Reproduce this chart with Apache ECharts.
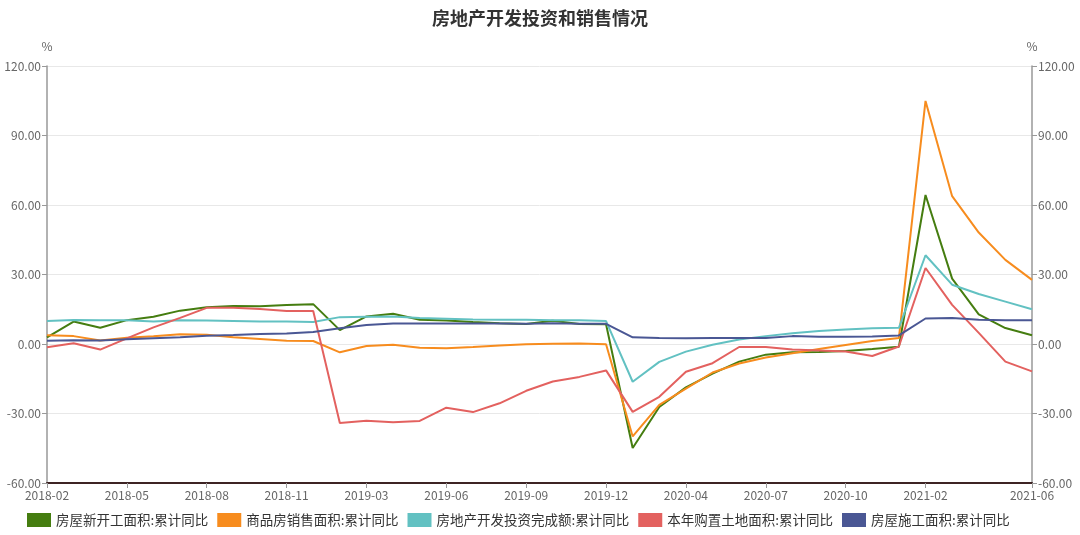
<!DOCTYPE html>
<html>
<head>
<meta charset="utf-8">
<script src="https://cdn.jsdelivr.net/npm/echarts@6/dist/echarts.min.js"></script>
<style>
html,body{margin:0;padding:0;background:#fff;}
#chart{width:1080px;height:535px;}
</style>
</head>
<body>
<div id="chart"></div>
<script>
const categories = [
  '2018-02','2018-03','2018-04','2018-05','2018-06','2018-07','2018-08','2018-09','2018-10','2018-11','2018-12',
  '2019-02','2019-03','2019-04','2019-05','2019-06','2019-07','2019-08','2019-09','2019-10','2019-11','2019-12',
  '2020-02','2020-03','2020-04','2020-05','2020-06','2020-07','2020-08','2020-09','2020-10','2020-11','2020-12',
  '2021-02','2021-03','2021-04','2021-05','2021-06'
];
const seriesNames = ['房屋新开工面积:累计同比','商品房销售面积:累计同比','房地产开发投资完成额:累计同比','本年购置土地面积:累计同比','房屋施工面积:累计同比'];
const newStarts = [2.9,9.7,7.0,10.3,11.8,14.4,15.9,16.4,16.3,16.8,17.2,
  6.0,11.9,13.1,10.5,10.1,9.5,9.0,8.6,10.0,8.6,8.5,
  -44.9,-27.2,-18.7,-12.8,-7.6,-4.6,-3.6,-3.4,-3.0,-2.2,-1.2,
  64.3,28.2,12.8,6.9,3.8];
const sales = [3.8,3.4,1.5,2.7,3.3,4.2,4.0,2.9,2.2,1.4,1.3,
  -3.6,-0.9,-0.3,-1.6,-1.8,-1.3,-0.6,-0.1,0.1,0.2,-0.1,
  -39.9,-26.3,-19.3,-12.3,-8.4,-5.8,-4.0,-2.2,-0.4,1.3,2.6,
  104.9,63.8,48.1,36.3,27.7];
const investment = [9.9,10.4,10.3,10.2,9.7,10.2,10.1,9.9,9.7,9.7,9.5,
  11.6,11.8,11.9,11.2,10.9,10.6,10.5,10.5,10.3,10.2,9.9,
  -16.3,-7.7,-3.3,-0.3,1.9,3.4,4.6,5.6,6.3,6.8,7.0,
  38.3,25.6,21.6,18.3,15.0];
const landPurchase = [-1.4,0.3,-2.4,2.4,7.2,11.3,15.6,15.6,15.1,14.2,14.2,
  -34.1,-33.1,-33.8,-33.2,-27.5,-29.4,-25.6,-20.2,-16.2,-14.2,-11.4,
  -29.3,-22.8,-12.0,-8.3,-1.3,-1.3,-2.4,-2.8,-3.2,-5.2,-1.1,
  32.8,16.9,4.8,-7.6,-11.8];
const underConstruction = [1.4,1.6,1.5,2.1,2.5,2.9,3.6,3.9,4.3,4.5,5.2,
  6.8,8.2,8.8,8.8,8.8,8.8,8.8,8.7,9.0,8.7,8.7,
  2.9,2.6,2.5,2.6,2.6,2.6,3.4,3.1,3.1,3.2,3.7,
  11.0,11.2,10.5,10.3,10.3];
const yTicks = {min:-60, max:120, interval:30};
const colors = ['#457d10','#f78c1e','#62c1c2','#e3615f','#4a5794'];

const chart = echarts.init(document.getElementById('chart'), null, {renderer:'canvas'});
const font = '"Noto Sans CJK SC", "Noto Sans", sans-serif';
const labelInterval = function(idx){ return (idx % 3 === 0 && idx !== 36) || idx === categories.length - 1; };
function yAxis(pos){
  return {
    type:'value', position:pos, min:yTicks.min, max:yTicks.max, interval:yTicks.interval,
    name:'%', nameLocation:'end', nameGap:14,
    nameTextStyle:{color:'#666', fontSize:12, fontFamily:font},
    axisLine:{show:true, lineStyle:{color:'#999', width:1.5}},
    axisTick:{show:true, length:5, lineStyle:{color:'#999'}},
    axisLabel:{color:'#666', fontSize:12, fontFamily:font, formatter:v=>v.toFixed(2), margin:6},
    splitLine:{show:pos==='left', lineStyle:{color:'#e8e8e8', width:1}}
  };
}
const dataArrays = [newStarts, sales, investment, landPurchase, underConstruction];
chart.setOption({
  animation:false,
  color:colors,
  title:{text:'房地产开发投资和销售情况', left:'center', top:4,
    textStyle:{fontSize:18, fontWeight:'bold', color:'#333', fontFamily:font}},
  grid:{left:47, right:48, top:66, bottom:52, containLabel:false},
  legend:{bottom:3, left:22, itemWidth:24, itemHeight:14, itemGap:9, icon:'rect',
    textStyle:{fontSize:13.5, color:'#333', fontFamily:font},
    data:seriesNames},
  xAxis:{type:'category', data:categories, boundaryGap:false,
    axisLine:{onZero:false, lineStyle:{color:'#3e2424', width:2}},
    axisTick:{show:true, interval:labelInterval, length:5, lineStyle:{color:'#999'}},
    axisLabel:{interval:labelInterval, color:'#666', fontSize:12, fontFamily:font, margin:6},
    splitLine:{show:false}},
  yAxis:[yAxis('left'), yAxis('right')],
  series: seriesNames.map((n,i)=>({
    name:n, type:'line', data:dataArrays[i], yAxisIndex: 0,
    showSymbol:false, symbol:'none', lineStyle:{width:2}
  }))
});
</script>
</body>
</html>
